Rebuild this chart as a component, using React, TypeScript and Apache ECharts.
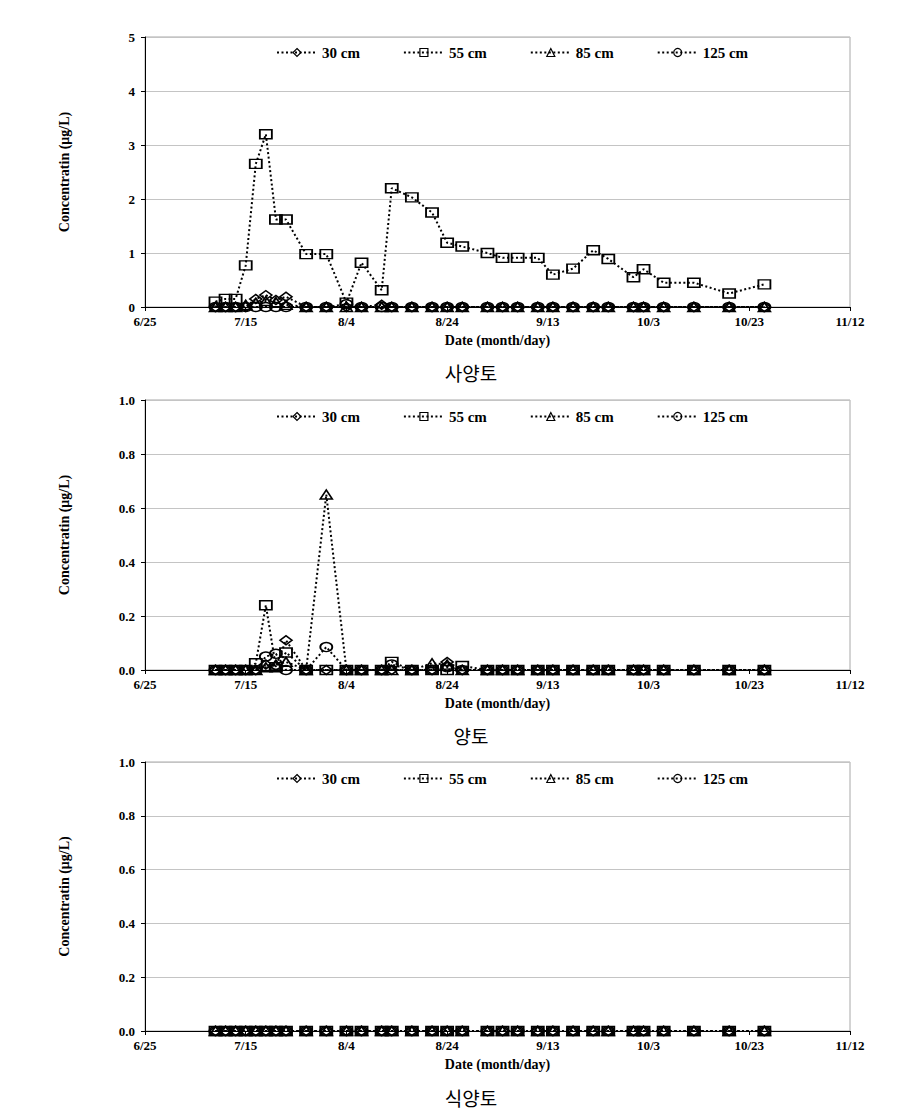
import React, { useEffect, useRef } from "react";
import * as echarts from "echarts";

// Sampling dates (month/day)
const dates = [
  "7/9", "7/11", "7/13", "7/15", "7/17", "7/19", "7/21", "7/23", "7/27", "7/31",
  "8/4", "8/7", "8/11", "8/13", "8/17", "8/21", "8/24", "8/27", "9/1", "9/4",
  "9/7", "9/11", "9/14", "9/18", "9/22", "9/25", "9/30", "10/2", "10/6", "10/12",
  "10/19", "10/26",
];

const xTickLabels = ["6/25", "7/15", "8/4", "8/24", "9/13", "10/3", "10/23", "11/12"];
const depthNames = ["30 cm", "55 cm", "85 cm", "125 cm"];
const soilNames = ["사양토", "양토", "식양토"];

// 사양토 (sandy loam)
const sandy30 = [0, 0, 0, 0, 0.15, 0.22, 0.13, 0.19, 0, 0, 0, 0, 0.04, 0, 0, 0, 0, 0, 0, 0, 0, 0, 0, 0, 0, 0, 0, 0, 0, 0, 0, 0];
const sandy55 = [0.1, 0.15, 0.15, 0.77, 2.65, 3.2, 1.62, 1.62, 0.98, 0.98, 0.08, 0.82, 0.31, 2.2, 2.03, 1.75, 1.19, 1.12, 1.0, 0.91, 0.91, 0.91, 0.6, 0.71, 1.05, 0.89, 0.55, 0.7, 0.45, 0.45, 0.25, 0.42];
const sandy85 = [0, 0, 0, 0.04, 0.08, 0.11, 0.09, 0.04, 0, 0, 0, 0, 0, 0, 0, 0, 0, 0, 0, 0, 0, 0, 0, 0, 0, 0, 0, 0, 0, 0, 0, 0];
const sandy125 = [0, 0, 0, 0, 0, 0, 0, 0, 0, 0, 0.05, 0, 0, 0, 0, 0, 0, 0, 0, 0, 0, 0, 0, 0, 0, 0, 0, 0, 0, 0, 0, 0];

// 양토 (loam)
const loam30 = [0, 0, 0, 0, 0, 0.02, 0.015, 0.11, 0, 0, 0, 0, 0, 0, 0, 0, 0.03, 0, 0, 0, 0, 0, 0, 0, 0, 0, 0, 0, 0, 0, 0, 0];
const loam55 = [0, 0, 0, 0, 0.025, 0.24, 0.01, 0.065, 0, 0, 0, 0, 0, 0.03, 0, 0, 0, 0.015, 0, 0, 0, 0, 0, 0, 0, 0, 0, 0, 0, 0, 0, 0];
const loam85 = [0, 0, 0, 0, 0, 0.01, 0.02, 0.03, 0, 0.65, 0, 0, 0, 0, 0, 0.025, 0.02, 0, 0, 0, 0, 0, 0, 0, 0, 0, 0, 0, 0, 0, 0, 0];
const loam125 = [0, 0, 0, 0, 0, 0.05, 0.06, 0, 0, 0.085, 0, 0, 0, 0.02, 0, 0, 0.01, 0, 0, 0, 0, 0, 0, 0, 0, 0, 0, 0, 0, 0, 0, 0];

// 식양토 (clay loam)
const clay30 = [0, 0, 0, 0, 0, 0, 0, 0, 0, 0, 0, 0, 0, 0, 0, 0, 0, 0, 0, 0, 0, 0, 0, 0, 0, 0, 0, 0, 0, 0, 0, 0];
const clay55 = [0, 0, 0, 0, 0, 0, 0, 0, 0, 0, 0, 0, 0, 0, 0, 0, 0, 0, 0, 0, 0, 0, 0, 0, 0, 0, 0, 0, 0, 0, 0, 0];
const clay85 = [0, 0, 0, 0, 0, 0, 0, 0, 0, 0, 0, 0, 0, 0, 0, 0, 0, 0, 0, 0, 0, 0, 0, 0, 0, 0, 0, 0, 0, 0, 0, 0];
const clay125 = [0, 0, 0, 0, 0, 0, 0, 0, 0, 0, 0, 0, 0, 0, 0, 0, 0, 0, 0, 0, 0, 0, 0, 0, 0, 0, 0, 0, 0, 0, 0, 0];

const panels = [
  { name: soilNames[0], series: [sandy30, sandy55, sandy85, sandy125], yMax: 5, yInterval: 1, digits: 0 },
  { name: soilNames[1], series: [loam30, loam55, loam85, loam125], yMax: 1, yInterval: 0.2, digits: 1 },
  { name: soilNames[2], series: [clay30, clay55, clay85, clay125], yMax: 1, yInterval: 0.2, digits: 1 },
];

const startDate = "6/25";
function dayOffset(md: string): number {
  const [m, d] = md.split("/").map(Number);
  const [m0, d0] = startDate.split("/").map(Number);
  return Math.round((Date.UTC(2000, m - 1, d) - Date.UTC(2000, m0 - 1, d0)) / 86400000);
}

const symbols = ["diamond", "rect", "triangle", "circle"];
const FONT = "'Liberation Serif', 'DejaVu Serif', serif";

const layout = [
  { top: 37, height: 270, legendTop: 40, subY: 372 },
  { top: 400, height: 270, legendTop: 404, subY: 735 },
  { top: 762, height: 269, legendTop: 766, subY: 1097 },
];

export default function App() {
  const ref = useRef<HTMLDivElement>(null);
  useEffect(() => {
    if (!ref.current) return;
    const chart = echarts.init(ref.current, undefined, { renderer: "svg" });
    const grid: any[] = [];
    const xAxis: any[] = [];
    const yAxis: any[] = [];
    const legend: any[] = [];
    const series: any[] = [];
    const graphic: any[] = [];

    panels.forEach((p, i) => {
      const L = layout[i];
      grid.push({
        left: 145,
        width: 705,
        top: L.top,
        height: L.height,
        show: true,
        borderColor: "#a8a8a8",
        borderWidth: 1,
      });
      xAxis.push({
        gridIndex: i,
        type: "value",
        min: 0,
        max: 140,
        interval: 20,
        axisLine: { show: true, onZero: false, lineStyle: { color: "#000", width: 1 } },
        axisTick: { show: true, length: 4, lineStyle: { color: "#000" } },
        axisLabel: {
          formatter: (v: number) => xTickLabels[Math.round(v / 20)] ?? "",
          fontFamily: FONT,
          fontWeight: "bold",
          fontSize: 13,
          color: "#000",
          margin: 8,
        },
        splitLine: { show: false },
        name: "Date (month/day)",
        nameLocation: "middle",
        nameGap: 26,
        nameTextStyle: { fontFamily: FONT, fontWeight: "bold", fontSize: 14, color: "#000" },
      });
      yAxis.push({
        gridIndex: i,
        type: "value",
        min: 0,
        max: p.yMax,
        interval: p.yInterval,
        axisLine: { show: true, lineStyle: { color: "#000", width: 1 } },
        axisTick: { show: true, length: 4, lineStyle: { color: "#000" } },
        axisLabel: {
          formatter: (v: number) => v.toFixed(p.digits),
          fontFamily: FONT,
          fontWeight: "bold",
          fontSize: 13,
          color: "#000",
          margin: 10,
        },
        splitLine: { show: true, lineStyle: { color: "#c4c4c4", width: 1 } },
        name: "Concentratin (μg/L)",
        nameLocation: "middle",
        nameRotate: 90,
        nameGap: 74,
        nameTextStyle: { fontFamily: FONT, fontWeight: "bold", fontSize: 14, color: "#000" },
      });
      legend.push({
        top: L.legendTop,
        left: 271,
        orient: "horizontal",
        data: depthNames,
        itemWidth: 40,
        itemHeight: 10,
        itemGap: 43,
        selectedMode: false,
        itemStyle: { color: "rgba(0,0,0,0)", borderColor: "#000", borderWidth: 1.2 },
        lineStyle: { color: "#000", width: 2, type: [2, 2.5] },
        textStyle: { fontFamily: FONT, fontWeight: "bold", fontSize: 15, color: "#000" },
      });
      p.series.forEach((vals, j) => {
        series.push({
          name: depthNames[j],
          type: "line",
          xAxisIndex: i,
          yAxisIndex: i,
          data: dates.map((d, k) => [dayOffset(d), vals[k]]),
          symbol: symbols[j],
          symbolSize: [12, 9],
          showAllSymbol: true,
          lineStyle: { color: "#000", width: 2, type: [2, 2.5] },
          itemStyle: { color: "rgba(0,0,0,0)", borderColor: "#000", borderWidth: 1.6 },
          emphasis: { disabled: true },
          z: 2 + j,
        });
      });
      graphic.push({
        type: "text",
        x: 471,
        y: L.subY,
        style: {
          text: p.name,
          fontFamily: "'Noto Sans CJK KR', sans-serif",
          fontSize: 19,
          fill: "#000",
          align: "center",
          verticalAlign: "middle",
        },
      });
    });

    chart.setOption({
      animation: false,
      backgroundColor: "#fff",
      textStyle: { fontFamily: FONT },
      grid,
      xAxis,
      yAxis,
      legend,
      series,
      graphic,
    });
    return () => chart.dispose();
  }, []);
  return (
    <div
      ref={ref}
      style={{ position: "absolute", left: 0, top: 0, width: 915, height: 1120, background: "#fff" }}
    />
  );
}
